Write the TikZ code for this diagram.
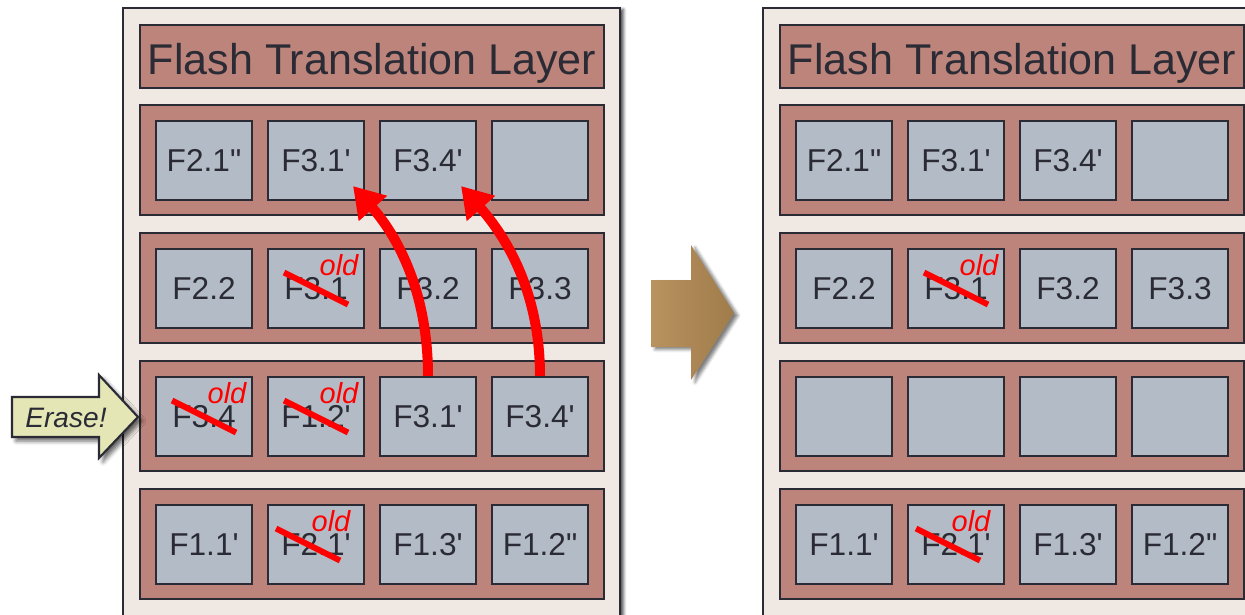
\documentclass[tikz,border=0pt]{standalone}
\usepackage{fontspec}
\usepackage{tikz}
\usetikzlibrary{calc}
\usetikzlibrary{arrows.meta}
\usetikzlibrary{shadows.blur}

\newfontfamily\ftlfont{Liberation Sans}

\definecolor{edge}{HTML}{2B2B35}
\definecolor{panelbg}{HTML}{F0E9E3}
\definecolor{blockbg}{HTML}{BC847A}
\definecolor{pagebg}{HTML}{B3BCC6}
\definecolor{erasebg}{HTML}{E4E6B6}
\definecolor{moveL}{HTML}{B8925F}
\definecolor{moveR}{HTML}{A07C4B}

\tikzset{
    panel/.style={draw=edge, fill=panelbg, line width=1.2pt,
        blur shadow={shadow xshift=0.07cm, shadow yshift=-0.03cm,
        shadow blur radius=0.06cm, shadow opacity=70}},
    ftl/.style={draw=edge, fill=blockbg, line width=1.2pt,
        minimum width=9.28cm, minimum height=1.26cm, inner sep=0pt,
        text depth=0pt, text=edge, font=\ftlfont\fontsize{24.5}{28}\selectfont},
    blockbox/.style={draw=edge, fill=blockbg, line width=1.2pt},
    page/.style={draw=edge, fill=pagebg, line width=1.2pt,
        minimum width=1.92cm, minimum height=1.58cm, inner sep=0pt,
        text=edge, font=\ftlfont\fontsize{18}{20}\selectfont},
    strike/.style={red, line width=0.12cm},
    oldtag/.style={red, inner sep=0pt,
        font=\ftlfont\itshape\fontsize{16.5}{18}\selectfont},
    move/.style={red, line width=0.2cm,
        -{Triangle[length=0.6cm,width=0.72cm]}},
    erasearrow/.style={draw=edge, fill=erasebg, line width=1.2pt,
        blur shadow={shadow xshift=0.08cm, shadow yshift=-0.08cm,
        shadow blur radius=0.08cm, shadow opacity=60}},
}

% strike a page out: #2 page node, #1 sideways shift
\newcommand{\markold}[2][0]{%
    \draw[strike] ($(#2)+(#1-32,-16)$) -- ($(#2)+(#1+32,16)$);
    \node[oldtag] (#2-old) at ($(#2)+(#1+23,-23)$) {old};
}

\begin{document}
\begin{tikzpicture}[x=0.02cm, y=-0.02cm]
    \useasboundingbox (0,0) rectangle (1245,615);
    \clip (0,0) rectangle (1245,615);
    % the two flash panels
    \foreach \p/\dx in {L/0,R/640}{
        \draw[panel] (\dx+123,8) rectangle (\dx+620,660);
        \draw[blockbox] (\dx+140,25) rectangle (\dx+604,88);
        \node[ftl, draw=none, fill=none] (\p-ftl) at (\dx+372,59) %
            {Flash Translation Layer};
        \foreach \r in {1,...,4}
            \draw[blockbox] (\dx+140,128*\r-23) rectangle (\dx+604,128*\r+87);
    }
    % pages
    \foreach \p/\dx in {L/0,R/640}{
        \foreach \t [count=\c] in {F2.1",F3.1',F3.4',{}}
            \node[page] (\p-1-\c) at (\dx+92+112*\c,160.5) {\t};
        \foreach \t [count=\c] in {F2.2,F3.1,F3.2,F3.3}
            \node[page] (\p-2-\c) at (\dx+92+112*\c,288.5) {\t};
        \foreach \t [count=\c] in {F1.1',F2.1',F1.3',F1.2"}
            \node[page] (\p-4-\c) at (\dx+92+112*\c,544.5) {\t};
    }
    \foreach \t [count=\c] in {F3.4,F1.2',F3.1',F3.4'}
        \node[page] (L-3-\c) at (92+112*\c,416.5) {\t};
    \foreach \c in {1,...,4}
        \node[page] (R-3-\c) at (732+112*\c,416.5) {};
    % stale pages
    \markold{L-2-2}
    \markold{L-3-1}
    \markold{L-3-2}
    \markold[-8]{L-4-2}
    \markold{R-2-2}
    \markold[-8]{R-4-2}
    % live pages copied up before the erase
    \draw[move] (L-3-3.north) .. controls +(0,-90) and +(40,45) ..
        ($(L-1-2.south east)+(-12,-15)$);
    \draw[move] (L-3-4.north) .. controls +(0,-90) and +(40,45) ..
        ($(L-1-3.south east)+(-16,-15)$);
    % erase pointer
    \draw[erasearrow] (12,397) -- (99,397) -- (99,375) -- (138,417) %
        -- (99,458) -- (99,437) -- (12,437) -- cycle;
    \node[font=\ftlfont\itshape\fontsize{16}{18}\selectfont, text=edge] %
        (erase) at (66,418) {Erase!};
    % step arrow
    \path[left color=moveL, right color=moveR,
        blur shadow={shadow xshift=0.08cm, shadow yshift=-0.05cm,
        shadow blur radius=0.06cm, shadow opacity=50}] %
        (651,280) -- (691,280) -- (691,245) -- (734,313) %
        -- (691,380) -- (691,347) -- (651,347) -- cycle;
\end{tikzpicture}
\end{document}
